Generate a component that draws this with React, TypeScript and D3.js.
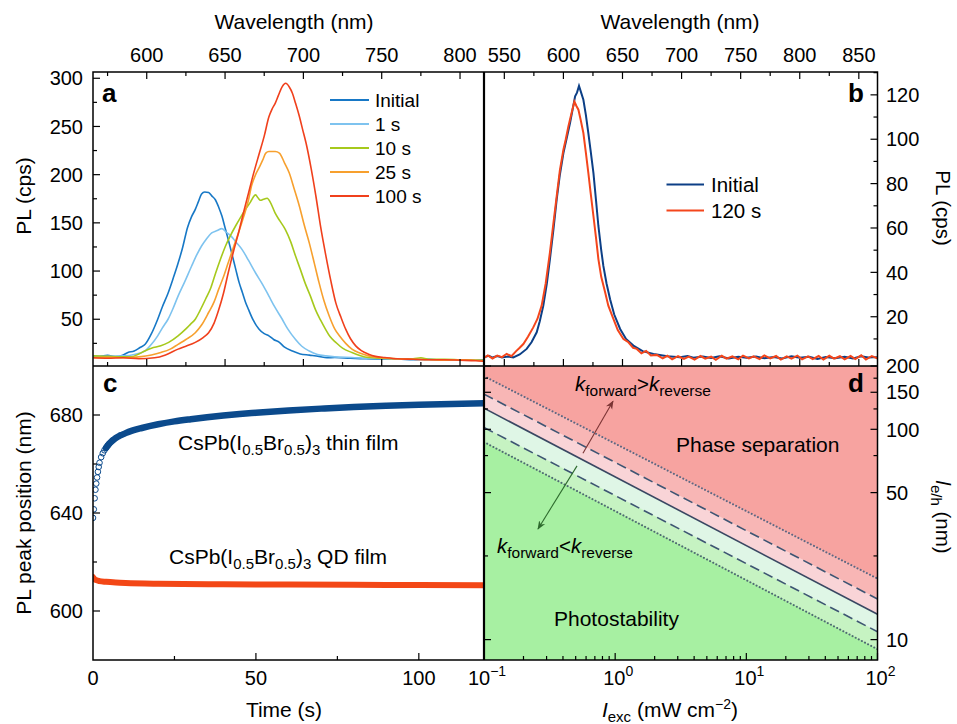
import React from 'react';
import * as d3 from 'd3';

const W = 957, H = 724;
const FONT = '"Liberation Sans", Arial, Helvetica, sans-serif';

// ---------- Panel a: PL spectra (wavelength nm, PL cps) ----------
const seriesANames = ['Initial', '1 s', '10 s', '25 s', '100 s'];
const seriesAColors = ['#1778c6', '#7ec3ef', '#a6c91c', '#f7a02e', '#f0401c'];
const specInitial: [number, number][] = [[566,12],[570,11.5],[575,12.5],[580,11],[585,13],[588,15.5],[592,17],[596,21],[599,24],[603,35],[607,50],[610,63],[613.6,77],[617,93],[620,108],[623,125],[626,145],[628.5,156],[631,164],[633,172],[635,180],[637,182],[639.5,181.5],[641.5,178],[643.8,174],[646,166],[648,157],[650,145],[652,133],[654.5,117],[656.8,102],[659,88],[661,78],[663,68],[665,60],[668,49],[671.6,40],[675,35],[678,32.8],[681,29],[684.7,26],[688,21],[693,17],[698,14],[703.8,12.8],[710,11.5],[715,10],[720,10.3],[730,9.5],[740,9],[750,8.5],[760,8.8],[770,8],[780,8.5],[790,7.5],[800,8],[810,7.5],[815,8]];
const spec1s: [number, number][] = [[566,12],[575,11.5],[585,12],[592,13.5],[598.7,17],[603,24],[607,32.8],[610,41],[613.6,50],[617,62],[620,74],[624,88],[628.6,105],[632,117],[635,126],[638,133],[641.5,139.5],[645,142],[648,144],[651,140],[654,136],[657,130],[661,122],[665,111],[669.5,98],[674,86],[678,74],[682,62],[686.5,50],[690,40],[695,29],[699,22],[703.8,17],[709,13.5],[714.4,12],[720,11],[731,10.3],[740,9.5],[750,9],[760,8.5],[770,8.5],[780,8],[790,8],[800,7.5],[815,7.5]];
const spec10s: [number, number][] = [[566,12],[575,11.5],[585,11],[590,11],[595,14],[598.7,17],[603,20],[609,22.4],[614,26],[620,32.8],[625,40],[628,45],[631,50],[634,59],[637.6,71],[641,83],[644,98],[647,112],[650.3,126],[653.5,137],[656.8,147],[660,156],[663,164],[666,171],[669.5,179],[671,176],[672.6,173.4],[674.5,174.5],[676.9,175.5],[679,171],[682,160],[685,152],[688.5,143],[692,130],[695,115.5],[698,102],[701,88],[704.5,74],[707.7,60],[711,49],[714,40],[717,32],[720.7,26],[725,20],[731,15.5],[736,12.5],[741.6,10.3],[750,9.5],[760,9],[770,9],[775,10],[780,8.5],[790,8.5],[800,8],[815,7.5]];
const spec25s: [number, number][] = [[566,10],[575,10.5],[585,10],[595,11],[603,13],[609,15.5],[615,19],[620,24],[625,29],[631,36],[635,44],[639.5,57],[643,68],[645.9,81],[649,94],[652,108.6],[655,123],[658.6,139.7],[662,157],[665,174],[667,189],[669.5,200],[672,208],[674,215],[676,222.4],[678,224],[680,224],[682,224],[684.7,222.4],[688,212],[691,201.7],[694,186],[697.5,167],[700.5,148],[703.8,129],[707,108],[710,88],[713,70],[716.5,53.4],[720,40],[723,32.8],[727,25],[731,19],[736,15],[741.6,12],[750,10],[760,9],[770,8.5],[780,8],[790,7.5],[800,8],[815,7]];
const spec100s: [number, number][] = [[566,10],[575,9.5],[585,10],[595,9],[605,10],[612,13],[620,19],[625,22],[631,26],[636,31],[639.5,36],[643,46],[646,60],[649,77],[652,98],[655,118],[658.6,139.7],[662,162],[665,181],[668,200],[671.6,220.7],[675,240],[678,260],[680,268],[682,274],[684,282],[686.5,291.4],[688.7,294.8],[691,291],[693,284.5],[695,274],[697.5,260],[699.5,247],[701.7,232.8],[705,206],[708,177.6],[711,146],[714.4,115.5],[717.5,90],[720.7,67],[724,52],[727,39.7],[730,30],[733.4,22.4],[737,17.5],[741.6,13.8],[746,11.5],[752,10.3],[760,9],[770,8.5],[780,8],[790,8],[800,7.5],[810,7],[815,6.5]];
const seriesA = [specInitial, spec1s, spec10s, spec25s, spec100s];
const ticksAx = [600, 650, 700, 750, 800];
const ticksAy = [50, 100, 150, 200, 250, 300];

// ---------- Panel b ----------
const seriesBNames = ['Initial', '120 s'];
const seriesBColors = ['#0c3f86', '#f4461c'];
const specBInitial: [number, number][] = [[533,1.8],[537,2.4],[540,1.6],[544,2.3],[548,1.6],[553,2.1],[557.6,1.7],[563,3],[568.9,5.5],[573,8.5],[577.4,13],[580,18],[583,25],[586,35],[588.6,46],[591.5,59],[594.3,72.8],[597,84],[600,93.8],[603,101],[605.6,107.3],[608,114],[609.9,119.3],[611.5,121],[613.2,124],[615,121],[616.9,117.8],[619,111],[621.1,102.8],[623,95],[625.4,84.8],[627.5,73],[629.6,60.9],[632,50],[633.8,42.9],[636.5,35],[639.5,27.9],[643,21],[648,14.5],[653,10],[659.2,7],[667,4.5],[676.2,3.2],[688,2.2],[698.7,1.7],[705,2.3],[710,1.5],[718,2.1],[725,1.4],[732,2.2],[740,1.2],[748,2],[755,1.5],[763,2.1],[770,1.3],[778,1.9],[785,1.2],[793,2.2],[800,1.5],[808,2],[815,1],[822,1.9],[830,1.3],[838,2],[845,1.2],[852,2.2],[858,1.6],[866,1.8]];
const specB120: [number, number][] = [[533,1.5],[536,2.6],[540,1.2],[544,2.5],[548,1.8],[552,3.3],[556,2.2],[560,4.5],[563,6],[566.1,7.7],[570,11],[574.5,15.2],[578,19],[581.6,25],[585,35],[588.6,49],[591.5,62],[594.3,74.3],[597,86],[600,95.3],[602,100],[604.2,105.8],[607,112],[609.3,117],[611,115],[612.7,113.3],[614.5,109],[616.9,102.8],[619,94],[621.1,84.8],[623,76],[625.4,65.4],[627.5,56],[629.6,46],[632,38],[635.3,31],[638,25],[642.3,19],[646,14],[650.8,10],[655,8.5],[659,6],[662.1,5.5],[666,3.5],[670,4.6],[674,2.5],[679,2.8],[684,1.2],[688,2.4],[692,0.8],[697,2.2],[702,1],[706,2],[711,0.7],[716,2.3],[720,1.1],[725,2],[729,0.6],[734,2.4],[738,1.1],[743,2.1],[748,0.8],[752,2.5],[757,1.2],[761,2.2],[766,0.9],[770,2.6],[775,1.2],[780,2.3],[784,0.7],[789,2.1],[793,1.1],[798,2.5],[802,0.8],[807,2.1],[811,0.9],[816,2.3],[820,0.7],[825,2.4],[829,1.1],[834,2.2],[838,0.8],[843,2.3],[847,0.9],[852,2.6],[856,0.7],[861,2.3],[866,1.2]];
const seriesB = [specBInitial, specB120];
const ticksBx = [550, 600, 650, 700, 750, 800, 850];
const ticksBy = [20, 40, 60, 80, 100, 120];

// ---------- Panel c: peak position vs time ----------
const thinTime = [0,0.25,0.5,0.75,1,1.25,1.5,1.75,2,2.5,3,3.5,4,4.5,5,6,7,8,9,10,12,15,20,25,30,35,40,45,50,60,70,80,90,100,110,120];
const thinPeak = [638,641.5,646,649.5,652,654.5,656.8,658.8,660.5,662.8,664.4,665.6,666.6,667.5,668.3,669.6,670.6,671.4,672,672.6,673.6,674.7,676.2,677.4,678.3,679.1,679.8,680.4,680.9,681.8,682.6,683.3,683.8,684.2,684.5,684.8];
const qdTime = [0,0.5,1,2,4,7,10,20,40,60,80,100,120];
const qdPeak = [613.8,613,612.6,612.2,611.9,611.6,611.4,611.1,610.9,610.8,610.7,610.6,610.5];
const ticksCx = [0, 50, 100];
const ticksCy = [600, 640, 680];

// ---------- Panel d: phase diagram (I_exc, l_e/h) ----------
const boundaryIexc = [0.1, 100];
const lineDottedUpper = [179, 19.5];
const lineDashedUpper = [147, 15.6];
const lineSolid = [126, 13.2];
const lineDashedLower = [102, 10.9];
const lineDottedLower = [87, 9];
const bandColors = ['#f7a3a0', '#f8b6b5', '#f9d4d7', '#dff6e6', '#c6f3c2', '#a7f0a2'];
const arrowUp: [number, number][] = [[0.568, 77], [0.963, 136]];
const arrowDown: [number, number][] = [[0.512, 67], [0.258, 33.6]];
const ticksDy = [10, 50, 100, 150, 200];
const minorDy = [25, 75, 125, 175];
const ticksDx = [0.1, 1, 10, 100];

// ---------- layout ----------
const L = 93, M = 484, R = 877.5, T = 72, MID = 366, B = 660;

const xA = d3.scaleLinear().domain([565.7, 815.3]).range([L, M]);
const yA = d3.scaleLinear().domain([1.5, 306.5]).range([MID, T]);
const xB = d3.scaleLinear().domain([532.8, 865.8]).range([M, R]);
const yB = d3.scaleLinear().domain([-2.2, 130.3]).range([MID, T]);
const xC = d3.scaleLinear().domain([0, 120]).range([L, M]);
const yC = d3.scaleLinear().domain([580, 700]).range([B, MID]);
const xD = d3.scaleLog().domain([0.1, 100]).range([M, R]);
const yD = d3.scaleLog().domain([8, 200]).range([B, MID]);

const range = (a: number, b: number, s: number) => d3.range(a, b + 1e-9, s);

export default function App() {
  const lineA = d3.line<[number, number]>().x(d => xA(d[0])).y(d => yA(d[1])).curve(d3.curveMonotoneX);
  const lineB = d3.line<[number, number]>().x(d => xB(d[0])).y(d => yB(d[1])).curve(d3.curveLinear);
  const thinPts = thinTime.map((t, i) => [t, thinPeak[i]] as [number, number]);
  const qdPts = qdTime.map((t, i) => [t, qdPeak[i]] as [number, number]);
  const lineC = d3.line<[number, number]>().x(d => xC(d[0])).y(d => yC(d[1])).curve(d3.curveMonotoneX);

  const bounds = [
    [200, 200], lineDottedUpper, lineDashedUpper, lineSolid, lineDashedLower, lineDottedLower, [8, 8],
  ];
  const areaD = (top: number[], bot: number[]) =>
    d3.area<number>().x((_, i) => xD(boundaryIexc[i])).y0((_, i) => yD(bot[i])).y1((_, i) => yD(top[i]))([0, 1]) || '';
  const lineD = d3.line<number>().x((_, i) => xD(boundaryIexc[i])).y(v => yD(v));
  const dLines = [
    { v: lineDottedUpper, dash: '0.1,3.4', color: '#5f6782', w: 2 },
    { v: lineDashedUpper, dash: '10,5', color: '#3e5573', w: 1.6 },
    { v: lineSolid, dash: '', color: '#3a4762', w: 1.6 },
    { v: lineDashedLower, dash: '10,5', color: '#3e5573', w: 1.6 },
    { v: lineDottedLower, dash: '0.1,3.4', color: '#4f6b72', w: 2 },
  ];

  const tickLen = 7, minorLen = 4;
  const ax = { stroke: '#000', strokeWidth: 1.2 };
  const tickFont = { fontFamily: FONT, fontSize: 20, fill: '#000' };

  const logMinors: number[] = [];
  for (const dec of [0.1, 1, 10]) for (let k = 2; k <= 9; k++) logMinors.push(dec * k);

  return (
    <svg width={W} height={H} style={{ position: 'absolute', left: 0, top: 0, background: '#fff' }} fontFamily={FONT}>
      <defs>
        <clipPath id="clipA"><rect x={L} y={T} width={M - L} height={MID - T} /></clipPath>
        <clipPath id="clipB"><rect x={M} y={T} width={R - M} height={MID - T} /></clipPath>
        <clipPath id="clipC"><rect x={L} y={MID} width={M - L} height={B - MID} /></clipPath>
        <clipPath id="clipD"><rect x={M} y={MID} width={R - M} height={B - MID} /></clipPath>
        <marker id="arrRed" viewBox="0 0 10 10" refX="9" refY="5" markerWidth="8" markerHeight="8" orient="auto-start-reverse">
          <path d="M0,1 L10,5 L0,9 L3,5 Z" fill="#7b3434" />
        </marker>
        <marker id="arrGreen" viewBox="0 0 10 10" refX="9" refY="5" markerWidth="8" markerHeight="8" orient="auto-start-reverse">
          <path d="M0,1 L10,5 L0,9 L3,5 Z" fill="#2d6a2d" />
        </marker>
      </defs>

      {/* ---------- Panel d backgrounds ---------- */}
      <g clipPath="url(#clipD)">
        {bandColors.map((c, i) => (
          <path key={i} d={areaD(bounds[i], bounds[i + 1])} fill={c} stroke={c} strokeWidth={0.5} />
        ))}
        {dLines.map((l, i) => (
          <path key={i} d={lineD(l.v) || ''} fill="none" stroke={l.color} strokeWidth={l.w}
            strokeDasharray={l.dash || undefined} strokeLinecap={l.dash.startsWith('0.1') ? 'round' : 'butt'} />
        ))}
        <line x1={xD(arrowUp[0][0])} y1={yD(arrowUp[0][1])} x2={xD(arrowUp[1][0])} y2={yD(arrowUp[1][1])}
          stroke="#7b3434" strokeWidth={1.1} markerEnd="url(#arrRed)" />
        <line x1={xD(arrowDown[0][0])} y1={yD(arrowDown[0][1])} x2={xD(arrowDown[1][0])} y2={yD(arrowDown[1][1])}
          stroke="#2d6a2d" strokeWidth={1.1} markerEnd="url(#arrGreen)" />
      </g>
      <text x={575} y={391} fontSize={20.5} fill="#000">
        <tspan fontStyle="italic">k</tspan><tspan fontSize={15.5} dy={5}>forward</tspan><tspan dy={-5}>&gt;</tspan><tspan fontStyle="italic">k</tspan><tspan fontSize={15.5} dy={5}>reverse</tspan>
      </text>
      <text x={497} y={553} fontSize={20.5} fill="#000">
        <tspan fontStyle="italic">k</tspan><tspan fontSize={15.5} dy={5}>forward</tspan><tspan dy={-5}>&lt;</tspan><tspan fontStyle="italic">k</tspan><tspan fontSize={15.5} dy={5}>reverse</tspan>
      </text>
      <text x={676} y={452} fontSize={21} fill="#000">Phase separation</text>
      <text x={554} y={626} fontSize={21} fill="#000">Photostability</text>

      {/* ---------- Panel a curves ---------- */}
      <g clipPath="url(#clipA)">
        {seriesA.map((s, i) => (
          <path key={i} d={lineA(s) || ''} fill="none" stroke={seriesAColors[i]} strokeWidth={1.6} />
        ))}
      </g>
      {seriesANames.map((n, i) => (
        <g key={n}>
          <line x1={330} x2={369} y1={100 + i * 24} y2={100 + i * 24} stroke={seriesAColors[i]} strokeWidth={2} />
          <text x={375} y={100 + i * 24} dy="0.36em" fontSize={19} fill="#000">{n}</text>
        </g>
      ))}

      {/* ---------- Panel b curves ---------- */}
      <g clipPath="url(#clipB)">
        {seriesB.map((s, i) => (
          <path key={i} d={lineB(s) || ''} fill="none" stroke={seriesBColors[i]} strokeWidth={2} />
        ))}
      </g>
      {seriesBNames.map((n, i) => (
        <g key={n}>
          <line x1={666.5} x2={704} y1={184.5 + i * 26} y2={184.5 + i * 26} stroke={seriesBColors[i]} strokeWidth={2.2} />
          <text x={711} y={184.5 + i * 26} dy="0.36em" fontSize={20.5} fill="#000">{n}</text>
        </g>
      ))}

      {/* ---------- Panel c ---------- */}
      <g clipPath="url(#clipC)">
        <path d={lineC(thinPts.filter(p => p[0] >= 4)) || ''} fill="none" stroke="#0b4a8c" strokeWidth={6.5} strokeLinecap="round" />
        {thinPts.filter(p => p[0] <= 6).map((p, i) => (
          <circle key={i} cx={xC(p[0])} cy={yC(p[1])} r={2.8} fill="none" stroke="#0b4a8c" strokeWidth={1} />
        ))}
        <path d={lineC(qdPts) || ''} fill="none" stroke="#f34716" strokeWidth={6} strokeLinecap="round" />
      </g>
      <text x={178} y={450} fontSize={21} fill="#000">
        CsPb(I<tspan fontSize={15} dy={5}>0.5</tspan><tspan dy={-5}>Br</tspan><tspan fontSize={15} dy={5}>0.5</tspan><tspan dy={-5}>)</tspan><tspan fontSize={15} dy={5}>3</tspan><tspan dy={-5}> thin film</tspan>
      </text>
      <text x={169} y={564} fontSize={21} fill="#000">
        CsPb(I<tspan fontSize={15} dy={5}>0.5</tspan><tspan dy={-5}>Br</tspan><tspan fontSize={15} dy={5}>0.5</tspan><tspan dy={-5}>)</tspan><tspan fontSize={15} dy={5}>3</tspan><tspan dy={-5}> QD film</tspan>
      </text>

      {/* ---------- Frames ---------- */}
      <rect x={L} y={T} width={R - L} height={B - T} fill="none" stroke="#000" strokeWidth={1.5} />
      <line x1={M} x2={M} y1={T} y2={B} stroke="#000" strokeWidth={2.2} />
      <line x1={L} x2={R} y1={MID} y2={MID} stroke="#000" strokeWidth={1.6} />

      {/* ---------- Panel a axes ---------- */}
      {range(575, 800, 25).map(v => {
        const major = v % 50 === 0;
        const len = major ? tickLen : minorLen;
        return (
          <g key={'at' + v}>
            <line x1={xA(v)} x2={xA(v)} y1={T} y2={T + len} {...ax} />
            <line x1={xA(v)} x2={xA(v)} y1={MID} y2={MID - len} {...ax} />
          </g>
        );
      })}
      {ticksAx.map(v => <text key={'atl' + v} x={xA(v)} y={62} textAnchor="middle" {...tickFont}>{v}</text>)}
      {range(25, 300, 25).map(v => (
        <line key={'ay' + v} x1={L} x2={L + (v % 50 === 0 ? tickLen : minorLen)} y1={yA(v)} y2={yA(v)} {...ax} />
      ))}
      {ticksAy.map(v => <text key={'ayl' + v} x={83} y={yA(v)} dy="0.36em" textAnchor="end" {...tickFont}>{v}</text>)}
      <text x={294} y={29} textAnchor="middle" fontSize={21}>Wavelength (nm)</text>
      <text transform={`translate(31,196) rotate(-90)`} textAnchor="middle" fontSize={21}>PL (cps)</text>
      <text x={102} y={102} fontSize={26} fontWeight="bold">a</text>

      {/* ---------- Panel b axes ---------- */}
      {range(550, 850, 25).map(v => {
        const major = v % 50 === 0;
        const len = major ? tickLen : minorLen;
        return (
          <g key={'bt' + v}>
            <line x1={xB(v)} x2={xB(v)} y1={T} y2={T + len} {...ax} />
            <line x1={xB(v)} x2={xB(v)} y1={MID} y2={MID - len} {...ax} />
          </g>
        );
      })}
      {ticksBx.map(v => <text key={'btl' + v} x={xB(v)} y={62} textAnchor="middle" {...tickFont}>{v}</text>)}
      {range(10, 130, 10).map(v => (
        <line key={'by' + v} x1={R} x2={R - (v % 20 === 0 ? tickLen : minorLen)} y1={yB(v)} y2={yB(v)} {...ax} />
      ))}
      {ticksBy.map(v => <text key={'byl' + v} x={886} y={yB(v)} dy="0.36em" {...tickFont}>{v}</text>)}
      <text x={680} y={29} textAnchor="middle" fontSize={21}>Wavelength (nm)</text>
      <text transform={`translate(936,208) rotate(90)`} textAnchor="middle" fontSize={20.5}>PL (cps)</text>
      <text x={848} y={102} fontSize={26} fontWeight="bold">b</text>

      {/* ---------- Panel c axes ---------- */}
      {range(25, 100, 25).map(v => (
        <line key={'cx' + v} x1={xC(v)} x2={xC(v)} y1={B} y2={B - (v % 50 === 0 ? tickLen : minorLen)} {...ax} />
      ))}
      {ticksCx.map(v => <text key={'cxl' + v} x={xC(v)} y={685} textAnchor="middle" {...tickFont}>{v}</text>)}
      {range(600, 680, 20).map(v => (
        <line key={'cy' + v} x1={L} x2={L + (v % 40 === 0 ? tickLen : minorLen)} y1={yC(v)} y2={yC(v)} {...ax} />
      ))}
      {ticksCy.map(v => <text key={'cyl' + v} x={83} y={yC(v)} dy="0.36em" textAnchor="end" {...tickFont}>{v}</text>)}
      <text x={284} y={717} textAnchor="middle" fontSize={21}>Time (s)</text>
      <text transform={`translate(31,513) rotate(-90)`} textAnchor="middle" fontSize={21}>PL peak position (nm)</text>
      <text x={103} y={392} fontSize={26} fontWeight="bold">c</text>

      {/* ---------- Panel d axes ---------- */}
      {logMinors.map(v => (
        <line key={'dxm' + v} x1={xD(v)} x2={xD(v)} y1={B} y2={B - minorLen} {...ax} />
      ))}
      {ticksDx.map(v => (
        <line key={'dxM' + v} x1={xD(v)} x2={xD(v)} y1={B} y2={B - tickLen} {...ax} />
      ))}
      {ticksDx.map(v => {
        const e = Math.round(Math.log10(v));
        return (
          <text key={'dxl' + v} x={xD(v) + 3} y={685} textAnchor="middle" {...tickFont}>
            10<tspan fontSize={14} dy={-9}>{e < 0 ? '\u2212' + Math.abs(e) : String(e)}</tspan>
          </text>
        );
      })}
      {[...ticksDy, ...minorDy].map(v => {
        const major = ticksDy.includes(v);
        const len = major ? tickLen : minorLen;
        return (
          <g key={'dy' + v}>
            <line x1={R} x2={R - len} y1={yD(v)} y2={yD(v)} {...ax} />
            <line x1={M} x2={M + len} y1={yD(v)} y2={yD(v)} {...ax} />
          </g>
        );
      })}
      {ticksDy.map(v => <text key={'dyl' + v} x={886} y={yD(v)} dy="0.36em" {...tickFont}>{v}</text>)}
      <text x={670} y={717} textAnchor="middle" fontSize={21}>
        <tspan fontStyle="italic">I</tspan><tspan fontSize={15} dy={5}>exc</tspan><tspan dy={-5}> (mW cm</tspan><tspan fontSize={14} dy={-8}>{'\u2212'}2</tspan><tspan dy={8}>)</tspan>
      </text>
      <text transform={`translate(936,517) rotate(90)`} textAnchor="middle" fontSize={20.5}>
        <tspan fontStyle="italic">l</tspan><tspan fontSize={15} dy={5}>e/h</tspan><tspan dy={-5}> (nm)</tspan>
      </text>
      <text x={848} y={392} fontSize={26} fontWeight="bold">d</text>
    </svg>
  );
}
